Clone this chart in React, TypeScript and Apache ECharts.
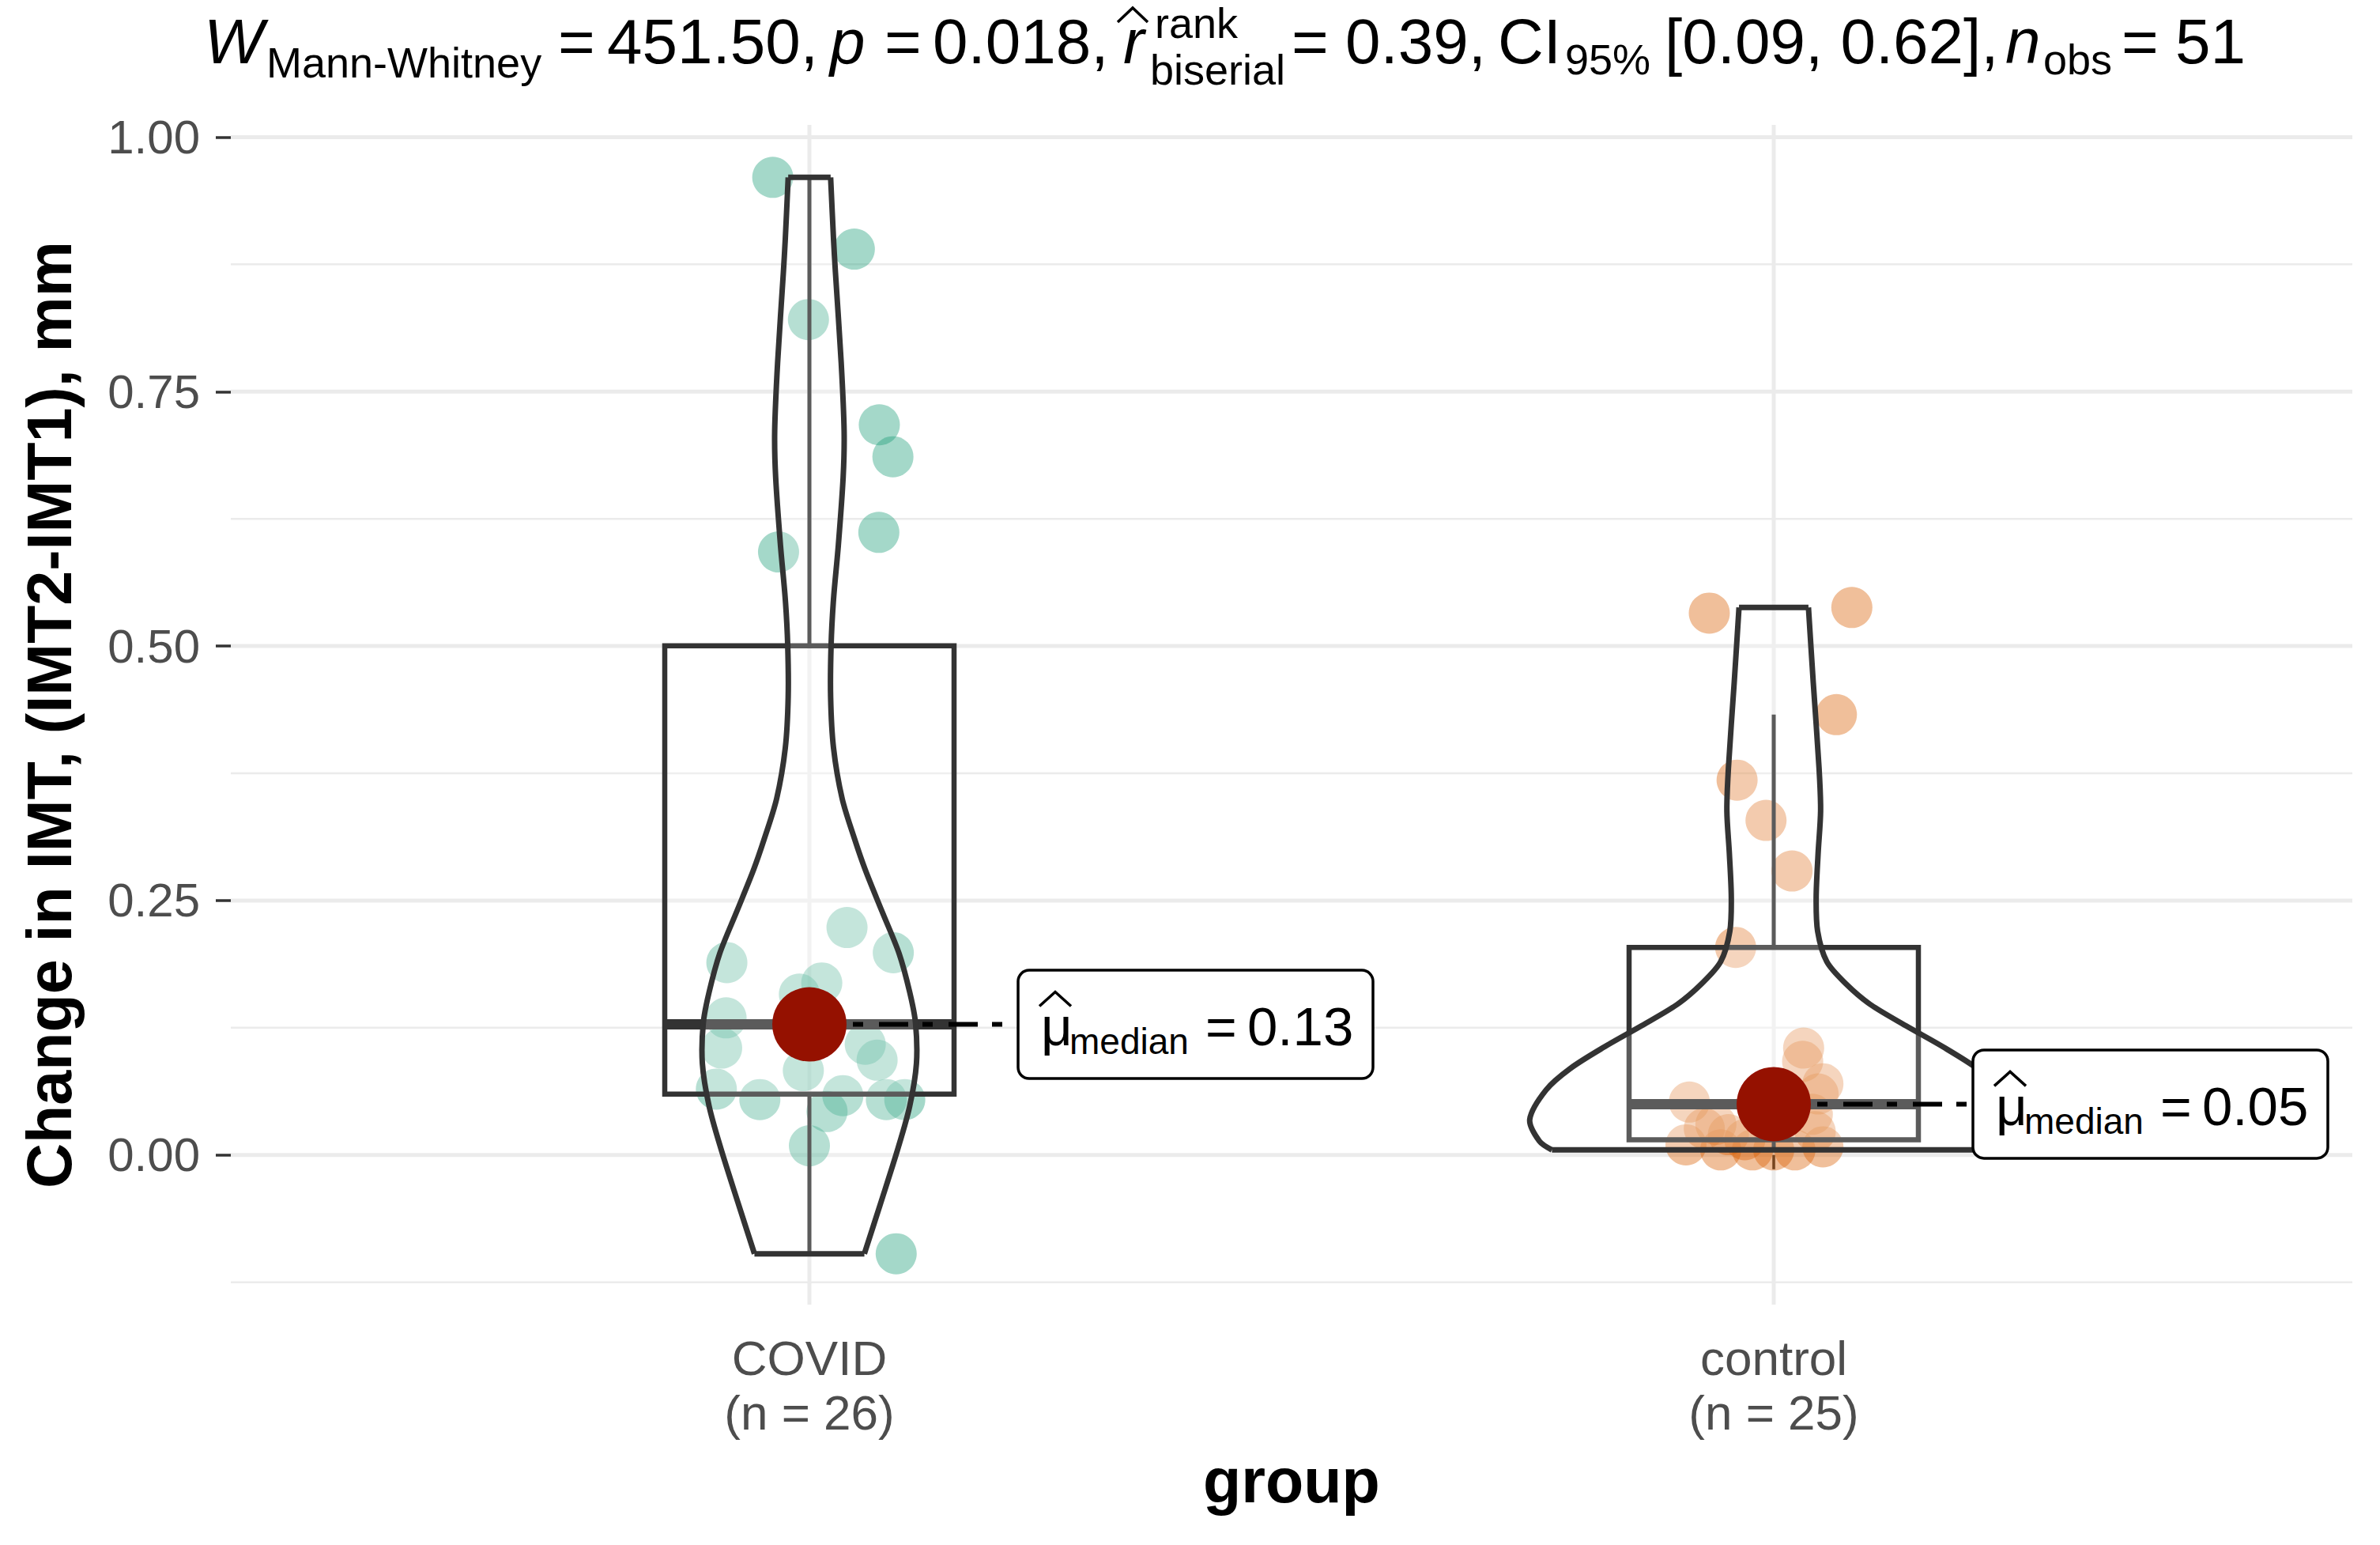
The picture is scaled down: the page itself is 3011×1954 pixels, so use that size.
import React, { useEffect, useRef } from "react";
import * as echarts from "echarts";

// ---------------- data ----------------
const categories = ["COVID", "control"];
const groupCounts = [26, 25];

const covidValues = [0.9605, 0.89, 0.8208, 0.7174, 0.686, 0.6117, 0.5925, 0.2235, 0.1987, 0.189, 0.169, 0.158, 0.1347, 0.122, 0.105, 0.1088, 0.0932, 0.0829, 0.0647, 0.0544, 0.0583, 0.0427, 0.0544, 0.0544, 0.0091, -0.097];
const covidJitter = [-0.038, 0.0466, -0.001, 0.0725, 0.0866, 0.072, -0.032, 0.039, 0.087, -0.0856, 0.0128, -0.0104, -0.0864, 0.006, -0.091, 0.0579, 0.0702, -0.0063, -0.0965, -0.0514, 0.0347, 0.0183, 0.0798, 0.0989, 0, 0.09];
const controlValues = [0.5324, 0.5379, 0.4326, 0.3683, 0.3287, 0.279, 0.204, 0.105, 0.092, 0.07, 0.06, 0.052, 0.05, 0.04, 0.03, 0.026, 0.023, 0.02, 0.015, 0.01, 0.008, 0.005, 0.005, 0.005, 0.005];
const controlJitter = [-0.0668, 0.081, 0.065, -0.038, -0.008, 0.019, -0.0395, 0.031, 0.03, 0.051, 0.046, -0.0875, 0.005, 0.04, -0.06, -0.072, 0.043, -0.047, -0.03, -0.091, 0.051, -0.055, -0.022, 0, 0.022];

// violin outline (value, half width in category units)
const covidViolinY = [0.9605, 0.9, 0.867, 0.778, 0.711, 0.666, 0.599, 0.546, 0.501, 0.45, 0.4, 0.35, 0.31, 0.28, 0.24, 0.198, 0.16, 0.13, 0.09, 0.048, 0.007, -0.047, -0.097];
const covidViolinW = [0.022, 0.025, 0.027, 0.033, 0.036, 0.035, 0.03, 0.025, 0.0225, 0.022, 0.025, 0.034, 0.047, 0.058, 0.075, 0.093, 0.104, 0.11, 0.111, 0.104, 0.092, 0.074, 0.057];
const controlViolinY = [0.5379, 0.464, 0.38, 0.338, 0.296, 0.253, 0.22, 0.19, 0.169, 0.148, 0.127, 0.106, 0.085, 0.064, 0.035, 0.0136, 0.005];
const controlViolinW = [0.036, 0.041, 0.047, 0.0486, 0.046, 0.044, 0.0455, 0.055, 0.074, 0.1, 0.137, 0.176, 0.211, 0.236, 0.253, 0.243, 0.23];

const yTicks = [0, 0.25, 0.5, 0.75, 1];
const yMinorGrid = [-0.125, 0.125, 0.375, 0.625, 0.875];

// ---------------- styling / layout ----------------
const FONT = '"Liberation Sans", Arial, Helvetica, sans-serif';
const pointColors = ["#1B9E77", "#D95F02"];
const labelOffsets = [264, 252];
const BOX_HALF = 0.15;

function quantile7(values: number[], p: number) {
  const s = values.slice().sort((a, b) => a - b);
  const h = (s.length - 1) * p;
  const lo = Math.floor(h);
  const hi = Math.ceil(h);
  return s[lo] + (h - lo) * (s[hi] - s[lo]);
}

function boxStats(values: number[]) {
  const q1 = quantile7(values, 0.25);
  const med = quantile7(values, 0.5);
  const q3 = quantile7(values, 0.75);
  const iqr = q3 - q1;
  const inside = values.filter((v) => v >= q1 - 1.5 * iqr && v <= q3 + 1.5 * iqr);
  return { q1, med, q3, lo: Math.min(...inside), hi: Math.max(...inside) };
}

export default function App() {
  const ref = useRef<HTMLDivElement>(null);

  useEffect(() => {
    if (!ref.current) return;
    const chart = echarts.init(ref.current, undefined, { renderer: "svg" });

    const groups = [covidValues, controlValues];
    const jitters = [covidJitter, controlJitter];
    const stats = groups.map(boxStats);
    const violins = [
      { y: covidViolinY, w: covidViolinW },
      { y: controlViolinY, w: controlViolinW },
    ];

    const gridRender = (params: any, api: any) => {
      const cs = params.coordSys;
      const children: any[] = [];
      yMinorGrid.forEach((v) => {
        const p = api.coord([1, v]);
        children.push({ type: "line", shape: { x1: cs.x, y1: p[1], x2: cs.x + cs.width, y2: p[1] }, style: { stroke: "#EBEBEB", lineWidth: 2.5 } });
      });
      yTicks.forEach((v) => {
        const p = api.coord([1, v]);
        children.push({ type: "line", shape: { x1: cs.x, y1: p[1], x2: cs.x + cs.width, y2: p[1] }, style: { stroke: "#EBEBEB", lineWidth: 5 } });
      });
      [1, 2].forEach((c) => {
        const p = api.coord([c, 0]);
        children.push({ type: "line", shape: { x1: p[0], y1: cs.y, x2: p[0], y2: cs.y + cs.height }, style: { stroke: "#EBEBEB", lineWidth: 5 } });
      });
      return { type: "group", children };
    };

    const boxRender = (params: any, api: any) => {
      const i = params.dataIndex;
      const c = i + 1;
      const s = stats[i];
      const tl = api.coord([c - BOX_HALF, s.q3]);
      const br = api.coord([c + BOX_HALF, s.q1]);
      const m1 = api.coord([c - BOX_HALF, s.med]);
      const m2 = api.coord([c + BOX_HALF, s.med]);
      const top = api.coord([c, s.hi]);
      const q3p = api.coord([c, s.q3]);
      const q1p = api.coord([c, s.q1]);
      const bot = api.coord([c, s.lo]);
      return {
        type: "group",
        children: [
          { type: "line", shape: { x1: top[0], y1: top[1], x2: q3p[0], y2: q3p[1] }, style: { stroke: "#333333", lineWidth: 5 } },
          { type: "line", shape: { x1: q1p[0], y1: q1p[1], x2: bot[0], y2: bot[1] }, style: { stroke: "#333333", lineWidth: 5 } },
          { type: "rect", shape: { x: tl[0], y: tl[1], width: br[0] - tl[0], height: br[1] - tl[1] }, style: { fill: "rgba(255,255,255,0.2)", stroke: "#333333", lineWidth: 6.5 } },
          { type: "line", shape: { x1: m1[0], y1: m1[1], x2: m2[0], y2: m2[1] }, style: { stroke: "#333333", lineWidth: 13 } },
        ],
      };
    };

    const violinRender = (params: any, api: any) => {
      const i = params.dataIndex;
      const c = i + 1;
      const v = violins[i];
      const left: number[][] = [];
      const right: number[][] = [];
      for (let k = 0; k < v.y.length; k++) {
        left.push(api.coord([c - v.w[k], v.y[k]]));
        right.push(api.coord([c + v.w[k], v.y[k]]));
      }
      const poly = left.concat(right.slice().reverse());
      const n = left.length - 1;
      const stroke = { stroke: "#333333", lineWidth: 7, fill: null, lineJoin: "round" };
      return {
        type: "group",
        children: [
          { type: "polygon", shape: { points: poly, smooth: 0.25 }, style: { fill: "rgba(255,255,255,0.2)", stroke: null } },
          { type: "polyline", shape: { points: left, smooth: 0.3 }, style: stroke },
          { type: "polyline", shape: { points: right, smooth: 0.3 }, style: stroke },
          { type: "line", shape: { x1: left[0][0], y1: left[0][1], x2: right[0][0], y2: right[0][1] }, style: stroke },
          { type: "line", shape: { x1: left[n][0], y1: left[n][1], x2: right[n][0], y2: right[n][1] }, style: stroke },
        ],
      };
    };

    const txt = (text: string, x: number, baseline: number, size: number, extra: any = {}) => ({
      type: "text",
      style: {
        text, x, y: baseline - 0.35 * size, fill: "#000000", fontSize: size, fontFamily: FONT,
        align: "left", verticalAlign: "middle", ...extra,
      },
    });

    const labelRender = (params: any, api: any) => {
      const i = params.dataIndex;
      const c = i + 1;
      const s = stats[i];
      const p = api.coord([c, s.med]);
      const x0 = p[0] + labelOffsets[i];
      const yc = p[1];
      return {
        type: "group",
        children: [
          { type: "line", shape: { x1: p[0], y1: yc, x2: x0, y2: yc }, style: { stroke: "#000000", lineWidth: 6, lineDash: [37, 18, 13, 20] } },
          { type: "rect", shape: { x: x0, y: yc - 68.5, width: 449, height: 137, r: 14 }, style: { fill: "#FFFFFF", stroke: "#000000", lineWidth: 3.5 } },
          { type: "polyline", shape: { points: [[x0 + 27, yc - 23], [x0 + 47, yc - 41], [x0 + 67, yc - 23]] }, style: { stroke: "#000000", lineWidth: 3.5, fill: null } },
          txt("\u03bc", x0 + 29, yc + 27, 69),
          txt("median", x0 + 65, yc + 38, 46),
          txt("=", x0 + 237, yc + 27, 68),
          txt(s.med.toFixed(2), x0 + 290, yc + 27, 69),
        ],
      };
    };

    const titleParts: [string, number, number, number, boolean][] = [
      ["W", 258, 80, 80, true],
      ["Mann-Whitney", 337, 98, 54, false],
      ["=", 706, 80, 80, false],
      ["451.50,", 768, 80, 80, false],
      ["p", 1050, 80, 80, true],
      ["=", 1119, 80, 80, false],
      ["0.018,", 1180, 80, 80, false],
      ["r", 1421, 80, 80, true],
      ["rank", 1461, 48, 54, false],
      ["biserial", 1455, 107, 54, false],
      ["=", 1634, 80, 80, false],
      ["0.39,", 1702, 80, 80, false],
      ["CI", 1895, 80, 80, false],
      ["95%", 1980, 94, 54, false],
      ["[0.09, 0.62],", 2106, 80, 80, false],
      ["n", 2537, 80, 80, true],
      ["obs", 2585, 94, 54, false],
      ["=", 2684, 80, 80, false],
      ["51", 2752, 80, 80, false],
    ];
    const graphic: any[] = titleParts.map(([t, x, b, size, it]) => ({
      type: "text",
      x,
      y: b - 0.35 * size,
      style: { text: t, fill: "#000000", fontSize: size, fontFamily: FONT, fontStyle: it ? "italic" : "normal", align: "left", verticalAlign: "middle" },
    }));
    graphic.push({
      type: "polyline",
      shape: { points: [[1414, 28], [1433, 10], [1452, 28]] },
      style: { stroke: "#000000", lineWidth: 3.5, fill: null },
    });

    const option: any = {
      animation: false,
      backgroundColor: "#FFFFFF",
      textStyle: { fontFamily: FONT },
      grid: { left: 292, top: 158, width: 2684, height: 1492 },
      xAxis: {
        type: "value",
        min: 0.4,
        max: 2.6,
        name: "group",
        nameLocation: "middle",
        nameGap: 183,
        nameTextStyle: { fontSize: 79, fontWeight: "bold", color: "#000000", fontFamily: FONT },
        axisLine: { show: false },
        splitLine: { show: false },
        axisTick: { show: true, customValues: [1, 2], length: 18, lineStyle: { color: "#333333", width: 3.5 } },
        axisLabel: {
          show: true,
          customValues: [1, 2],
          margin: 33,
          fontSize: 62,
          lineHeight: 69,
          color: "#4D4D4D",
          fontFamily: FONT,
          formatter: (v: number) => {
            const i = Math.round(v) - 1;
            if (Math.abs(v - Math.round(v)) > 1e-6 || i < 0 || i > 1) return "";
            return categories[i] + "\n(n = " + groupCounts[i] + ")";
          },
        },
      },
      yAxis: {
        type: "value",
        min: -0.147,
        max: 1.012,
        name: "Change in IMT, (IMT2-IMT1), mm",
        nameLocation: "middle",
        nameRotate: 90,
        nameGap: 190,
        nameTextStyle: { fontSize: 79, fontWeight: "bold", color: "#000000", fontFamily: FONT },
        axisLine: { show: false },
        splitLine: { show: false },
        axisTick: { show: true, customValues: yTicks, length: 19, lineStyle: { color: "#333333", width: 3.5 } },
        axisLabel: {
          show: true,
          customValues: yTicks,
          margin: 39,
          fontSize: 60,
          color: "#4D4D4D",
          fontFamily: FONT,
          formatter: (v: number) => v.toFixed(2),
        },
      },
      graphic,
      series: [
        { type: "custom", silent: true, z: 0, renderItem: gridRender, data: [[1, 0]] },
        ...groups.map((vals, gi) => ({
          type: "scatter",
          silent: true,
          z: 2,
          symbol: "circle",
          symbolSize: 52,
          itemStyle: { color: pointColors[gi], opacity: 0.4, borderWidth: 0 },
          data: vals.map((v, k) => [gi + 1 + jitters[gi][k], v]),
        })),
        { type: "custom", silent: true, z: 3, renderItem: boxRender, data: [[1, 0], [2, 0]] },
        { type: "custom", silent: true, z: 4, renderItem: violinRender, data: [[1, 0], [2, 0]] },
        { type: "custom", silent: true, z: 5, renderItem: labelRender, data: [[1, 0], [2, 0]] },
        {
          type: "scatter",
          silent: true,
          z: 6,
          symbol: "circle",
          symbolSize: 94,
          itemStyle: { color: "#951100", opacity: 1 },
          data: stats.map((s, i) => [i + 1, s.med]),
        },
      ],
    };

    chart.setOption(option);
    return () => chart.dispose();
  }, []);

  return <div ref={ref} style={{ position: "absolute", left: 0, top: 0, width: 3011, height: 1954 }} />;
}
